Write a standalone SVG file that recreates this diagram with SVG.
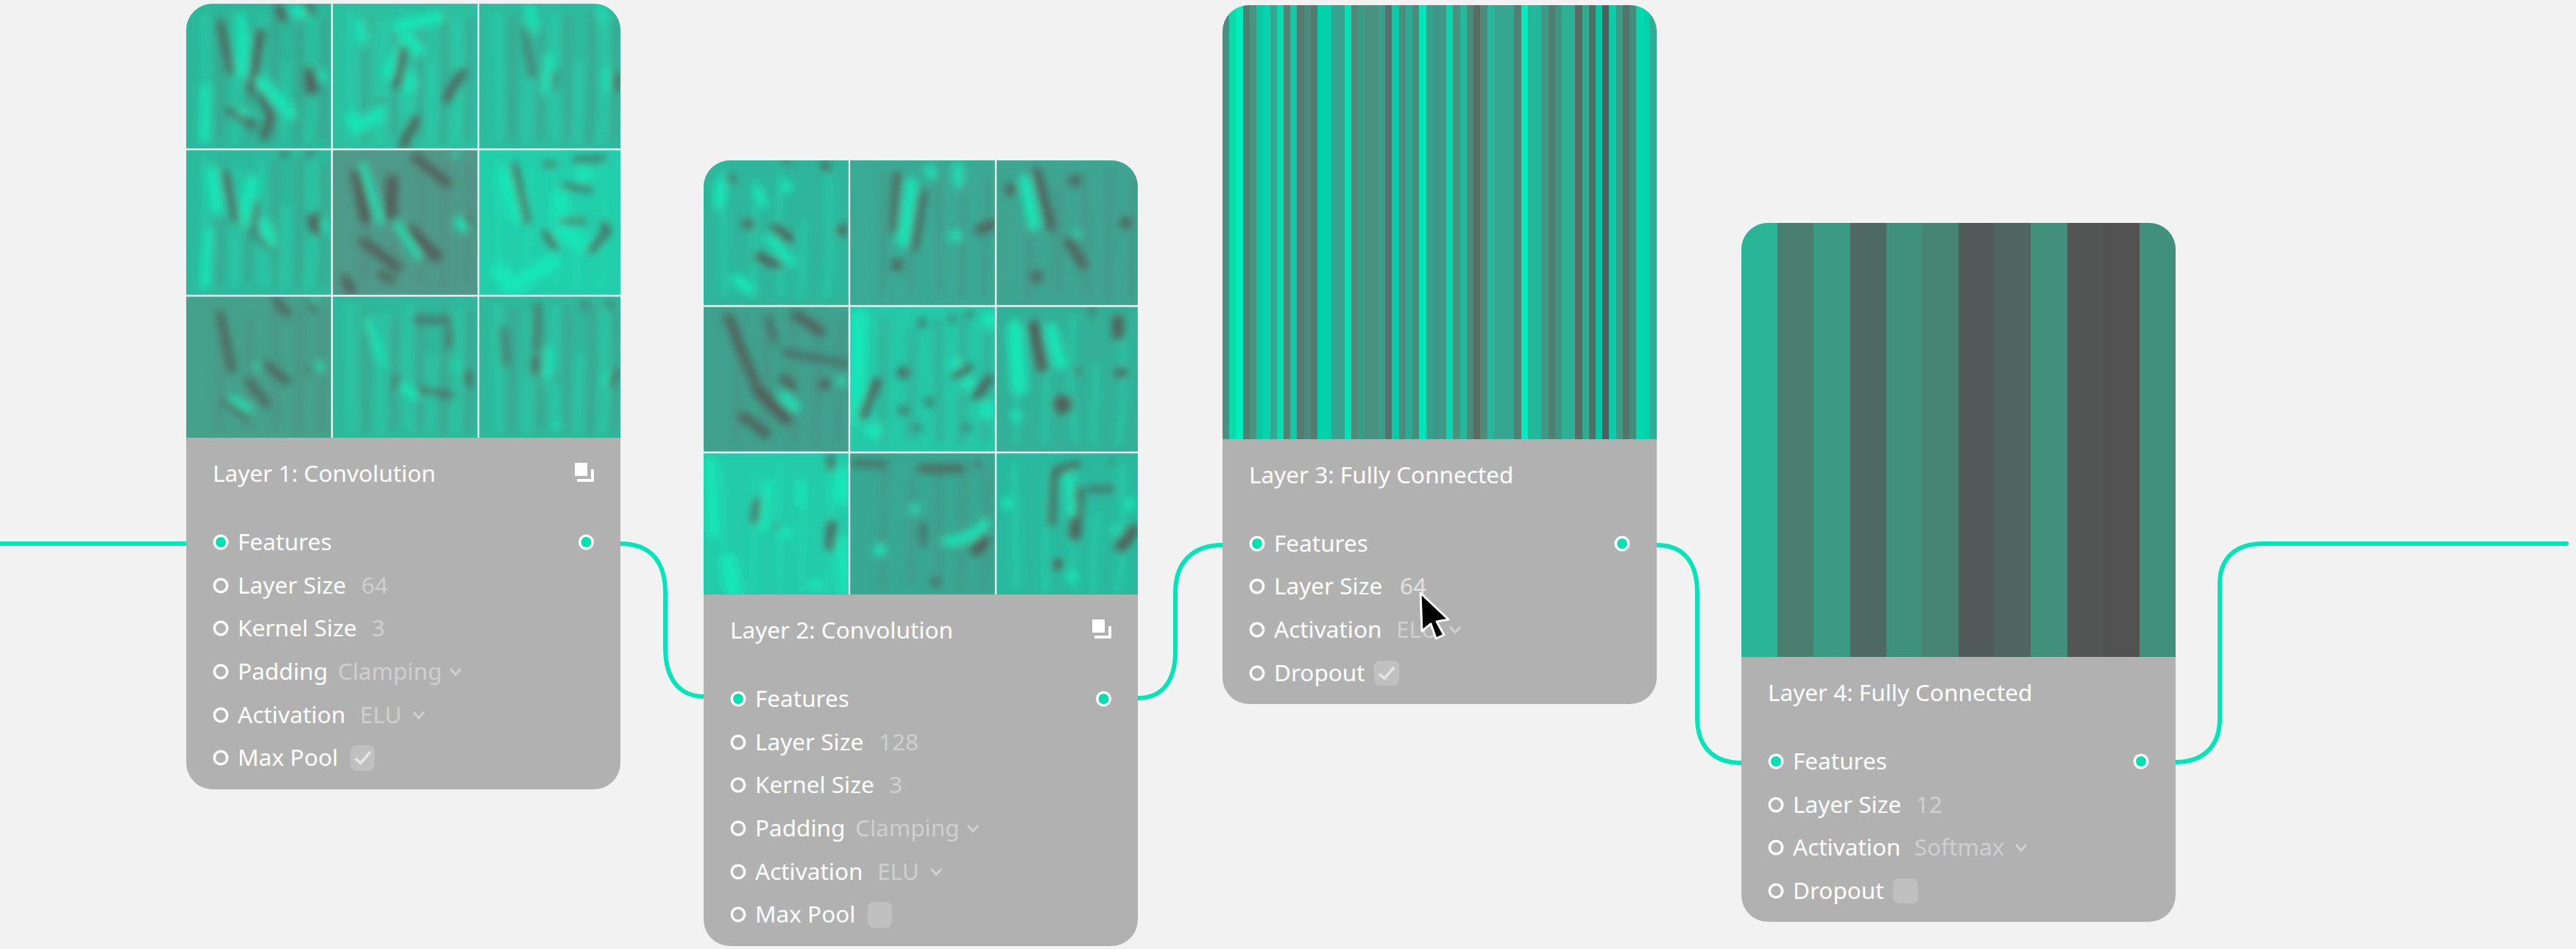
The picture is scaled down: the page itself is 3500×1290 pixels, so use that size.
<svg xmlns="http://www.w3.org/2000/svg" width="3500" height="1290" viewBox="0 0 3500 1290">
<style>
text{font-family:"Noto Sans","Liberation Sans",sans-serif;font-size:31.5px;fill:#fff}
text.v{fill:#cfcfcf}
text.h{fill:#e2e2e2}
.panel{fill:#b1b1b1}
.conn{fill:none;stroke:#00e6b8;stroke-width:6;stroke-linecap:round}
.port{fill:none;stroke:#fff;stroke-width:3.6}
.on{fill:#00e0b0}
.chev{fill:none;stroke:#d0d0d0;stroke-width:3.2}
.box{fill:#c0c0c0}
.tick{fill:none;stroke:#e6e6e6;stroke-width:3.6}
.grid{stroke:#f4f4f4;stroke-width:2.4;fill:none}
.d10,.d14,.d18,.d24,.b14,.b20,.b28,.b40{fill:none;stroke-linecap:round;stroke-linejoin:round}
.d10,.d14,.d18,.d24{stroke:#535c59}
.b14,.b20,.b28,.b40{stroke:#16e6b8}
.d10{stroke-width:18}.d14{stroke-width:24}.d18{stroke-width:30}.d24{stroke-width:40}
.b14{stroke-width:24}.b20{stroke-width:32}.b28{stroke-width:42}.b40{stroke-width:58}
.sb{fill:none;stroke:#18dcb2;stroke-width:28;opacity:.42}
.sd{fill:none;stroke:#57807a;stroke-width:24;opacity:.38}
</style>
<defs>
<filter id="blur" x="-40%" y="-40%" width="180%" height="180%"><feGaussianBlur stdDeviation="15"/></filter>
<path id="sb" class="sb" d="M62 30L72 470M180 60L168 480M265 30L255 250L270 470M345 200L335 480M430 40L440 300L420 480"/>
<path id="sd" class="sd" d="M120 40L112 470M218 80L210 460M305 40L310 470M392 30L385 480M475 50L465 470"/>
<clipPath id="n1"><rect x="253" y="5" width="590" height="1068" rx="36"/></clipPath>
<clipPath id="n2"><rect x="956" y="218" width="590" height="1068" rx="36"/></clipPath>
<clipPath id="n3"><rect x="1661" y="7" width="590" height="950" rx="36"/></clipPath>
<clipPath id="n4"><rect x="2366" y="303" width="590" height="950" rx="36"/></clipPath>
<clipPath id="a00"><rect x="33" y="13" width="500" height="500"/></clipPath>
<clipPath id="a10"><rect x="533" y="13" width="504" height="500"/></clipPath>
<clipPath id="a20"><rect x="1037" y="13" width="488" height="500"/></clipPath>
<clipPath id="a01"><rect x="33" y="513" width="500" height="503"/></clipPath>
<clipPath id="a11"><rect x="533" y="513" width="504" height="503"/></clipPath>
<clipPath id="a21"><rect x="1037" y="513" width="488" height="503"/></clipPath>
<clipPath id="a02"><rect x="33" y="1016" width="500" height="489"/></clipPath>
<clipPath id="a12"><rect x="533" y="1016" width="504" height="489"/></clipPath>
<clipPath id="a22"><rect x="1037" y="1016" width="488" height="489"/></clipPath>
<clipPath id="c00"><rect x="15" y="20" width="501" height="502"/></clipPath>
<clipPath id="c10"><rect x="516" y="20" width="504" height="502"/></clipPath>
<clipPath id="c20"><rect x="1020" y="20" width="487" height="502"/></clipPath>
<clipPath id="c01"><rect x="15" y="522" width="501" height="504"/></clipPath>
<clipPath id="c11"><rect x="516" y="522" width="504" height="504"/></clipPath>
<clipPath id="c21"><rect x="1020" y="522" width="487" height="504"/></clipPath>
<clipPath id="c02"><rect x="15" y="1026" width="501" height="487"/></clipPath>
<clipPath id="c12"><rect x="516" y="1026" width="504" height="487"/></clipPath>
<clipPath id="c22"><rect x="1020" y="1026" width="487" height="487"/></clipPath>
</defs>
<rect width="3500" height="1290" fill="#f2f2f2"/>
<g id="connectors">
<path class="conn" style="stroke-linecap:butt" d="M0 739H253"/>
<path class="conn" d="M843 739C885 739 904 765 904 805V880C904 922 922 947 958 947"/>
<path class="conn" d="M1546 949C1580 949 1597 925 1597 885V805C1597 765 1620 741 1661 741"/>
<path class="conn" d="M2251 741C2288 741 2306 765 2306 805V975C2306 1012 2325 1037 2366 1037"/>
<path class="conn" d="M2956 1036C2996 1036 3016 1012 3016 977V793C3016 760 3036 739 3075 739H3487"/>
</g>
<g id="node1">
<g clip-path="url(#n1)">
<rect class="panel" x="253" y="5" width="590" height="1068"/>
<g transform="translate(240,0) scale(.39541)">
<g clip-path="url(#a00)"><rect x="33" y="13" width="500" height="500" fill="#2cb79a"/><g filter="url(#blur)"><use href="#sb" x="33" y="13"/><use href="#sd" x="33" y="13"/>
<path class="d14" d="M150 80L190 250M180 380L270 430"/><path class="d18" d="M290 110L260 310M290 330L320 400L300 470M350 30L370 60M450 20L460 40"/><path class="d24" d="M460 250L465 310"/>
<path class="b28" d="M230 120L225 250M290 280L390 390M410 40L430 45"/><path class="b20" d="M100 300L95 480M220 60L225 90"/><path class="b14" d="M490 250L510 270M220 380L240 390"/></g></g>
<g clip-path="url(#a10)"><rect x="533" y="13" width="504" height="500" fill="#2cc0a0"/><g filter="url(#blur)"><use href="#sb" x="533" y="13"/><use href="#sd" x="533" y="13"/>
<path class="b28" d="M730 250L790 130L830 170M800 270L800 300M760 90L900 60M600 400L620 440L700 390"/><path class="b20" d="M630 80L640 140"/>
<path class="d18" d="M780 170L760 290M980 250L930 340M820 410L780 500"/><path class="d10" d="M700 350h.1"/></g></g>
<g clip-path="url(#a20)"><rect x="1037" y="13" width="488" height="500" fill="#2dbb9e"/><g filter="url(#blur)"><use href="#sb" x="1037" y="13"/><use href="#sd" x="1037" y="13"/>
<path class="d18" d="M1510 260L1510 300"/><path class="d10" d="M1300 250L1290 310M1200 100L1220 260"/>
<path class="b20" d="M1215 30L1225 100M1480 250L1480 300M1280 200L1270 310"/><path class="b14" d="M1460 30L1465 70"/></g></g>
<g clip-path="url(#a01)"><rect x="33" y="513" width="500" height="503" fill="#2cba9d"/><g filter="url(#blur)"><use href="#sb" x="33" y="513"/><use href="#sd" x="33" y="513"/>
<path class="b28" d="M125 590L140 720M260 620L230 760M300 770L320 830"/><path class="b20" d="M110 800L95 980M505 770v20"/>
<path class="d14" d="M170 600L205 760M370 530h.1M460 530h.1"/><path class="d24" d="M470 750L480 790"/><path class="d10" d="M275 700L270 800L310 850"/></g></g>
<g clip-path="url(#a11)"><rect x="533" y="513" width="504" height="503" fill="#4f9a89"/><g filter="url(#blur)"><use href="#sd" x="533" y="513"/>
<path class="d24" d="M620 600L650 750M740 620L735 740M800 790L890 880"/><path class="d18" d="M640 830L760 920M820 540L930 630M580 960L600 1000M1000 760h.1"/><path class="d14" d="M700 940L740 965"/>
<path class="b14" d="M640 570L700 760M760 770L830 880M960 530h.1"/><path class="b20" d="M970 760L985 785"/></g></g>
<g clip-path="url(#a21)"><rect x="1037" y="513" width="488" height="503" fill="#23ceab"/><g filter="url(#blur)"><use href="#sb" x="1037" y="513"/>
<path class="b40" d="M1130 600L1170 740M1110 930L1150 990L1290 900M1320 680L1320 800L1400 840M1400 600h.1"/>
<path class="d14" d="M1160 570L1205 760M1470 770L1480 800L1420 860M1270 800L1300 850"/><path class="d10" d="M1270 565L1300 565M1370 550L1470 545M1330 640L1420 650M1320 760L1400 760"/></g></g>
<g clip-path="url(#a02)"><rect x="33" y="1016" width="500" height="489" fill="#45a18c"/><g filter="url(#blur)"><use href="#sd" x="33" y="1016"/>
<path class="d14" d="M150 1080L190 1270M340 1030L380 1080M460 1030L470 1060M300 1250L380 1310M250 1310L310 1390M170 1380L240 1430M460 1270h.1"/>
<path class="b20" d="M490 1260h.1"/><path class="b14" d="M190 1370L250 1410M280 1260h.1M470 1030h.1"/></g></g>
<g clip-path="url(#a12)"><rect x="533" y="1016" width="504" height="489" fill="#2fb89b"/><g filter="url(#blur)"><use href="#sb" x="533" y="1016"/><use href="#sd" x="533" y="1016"/>
<path class="b14" d="M710 1250h.1M660 1100L700 1230M960 1260h.1"/><path class="b20" d="M780 1330L820 1360"/>
<path class="d10" d="M760 1300L750 1330M830 1340L950 1360M820 1100L940 1100M940 1130L940 1190"/><path class="d14" d="M1000 1280L1005 1320"/></g></g>
<g clip-path="url(#a22)"><rect x="1037" y="1016" width="488" height="489" fill="#2fb89b"/><g filter="url(#blur)"><use href="#sb" x="1037" y="1016"/><use href="#sd" x="1037" y="1016"/>
<path class="d14" d="M1510 1280L1490 1320M1230 1230L1230 1280M1400 1050h.1M1490 1050h.1"/><path class="d10" d="M1120 1130L1130 1250M1240 1050L1230 1200M1300 1300h.1"/>
<path class="b14" d="M1480 1290L1470 1320M1280 1200L1270 1300M1300 1460h.1"/></g></g>
</g>
<path class="grid" d="M451 5V595M650 5V595M253 203H843M253 402H843"/>
</g>
<text x="289" y="655">Layer 1: Convolution</text>
<path fill="#fff" d="M781 629h17v18h-17z"/><path fill="#fff" d="M803 638h4v17h-23v-4h19z"/>
<circle class="port on" cx="300" cy="737" r="8.7"/><circle class="port on" cx="796.5" cy="737" r="8.7"/>
<text x="323" y="748">Features</text>
<circle class="port" cx="300" cy="796" r="8.7"/><text x="323" y="807">Layer Size</text><text class="v" x="491" y="807">64</text>
<circle class="port" cx="300" cy="854" r="8.7"/><text x="323" y="865">Kernel Size</text><text class="v" x="505" y="865">3</text>
<circle class="port" cx="300" cy="913" r="8.7"/><text x="323" y="924">Padding</text><text class="v" x="459" y="924">Clamping</text><path class="chev" d="M612 909l7 8 7-8"/>
<circle class="port" cx="300" cy="972" r="8.7"/><text x="323" y="983">Activation</text><text class="v" x="489" y="983">ELU</text><path class="chev" d="M562 968l7 8 7-8"/>
<circle class="port" cx="300" cy="1030" r="8.7"/><text x="323" y="1041">Max Pool</text><rect class="box" x="476" y="1013" width="33" height="35" rx="8"/><path class="tick" d="M483 1031l7 6.500 13-15.500"/>
</g>
<g id="node2">
<g clip-path="url(#n2)">
<rect class="panel" x="956" y="218" width="590" height="1068"/>
<g transform="translate(950,210) scale(.39541)">
<g clip-path="url(#c00)"><rect x="15" y="20" width="501" height="502" fill="#2fb59b"/><g filter="url(#blur)"><use href="#sb" x="15" y="20"/>
<path class="b28" d="M75 100L70 170M130 430L170 460M300 110h.1"/><path class="b20" d="M240 290L320 370M200 120L220 170"/>
<path class="d18" d="M110 85h.1M260 250L310 290M200 350L270 380"/><path class="d24" d="M170 240h.1M490 260h.1"/><path class="d14" d="M430 30L440 50M300 25h.1"/></g></g>
<g clip-path="url(#c10)"><rect x="516" y="20" width="504" height="502" fill="#3aaa94"/><g filter="url(#blur)"><use href="#sd" x="516" y="20"/>
<path class="b28" d="M730 100L700 300M880 280h.1"/><path class="b20" d="M790 50L800 70M890 40L890 100"/>
<path class="d14" d="M680 70L670 260M770 130L740 320"/><path class="d18" d="M960 260L1010 240"/><path class="d24" d="M680 380h.1"/></g></g>
<g clip-path="url(#c20)"><rect x="1020" y="20" width="487" height="502" fill="#3ea591"/><g filter="url(#blur)"><use href="#sd" x="1020" y="20"/>
<path class="b28" d="M1120 90L1150 240"/><path class="b14" d="M1300 270h.1"/>
<path class="d18" d="M1160 60L1210 250M1270 300L1320 380"/><path class="d24" d="M1465 235h.1M1290 90h.1M1160 420h.1M1070 120h.1"/></g></g>
<g clip-path="url(#c01)"><rect x="15" y="522" width="501" height="504" fill="#3fa18e"/><g filter="url(#blur)"><use href="#sd" x="15" y="522"/>
<path class="d18" d="M100 560L190 780M330 550L420 610M290 770L320 800M150 900L230 960"/><path class="d10" d="M235 560L260 640M290 680L510 720"/><path class="d24" d="M430 790h.1M200 810L300 910"/>
<path class="b20" d="M290 830L330 870M490 780h.1"/></g></g>
<g clip-path="url(#c11)"><rect x="516" y="522" width="504" height="504" fill="#24c9a8"/><g filter="url(#blur)"><use href="#sd" x="516" y="522"/>
<path class="b40" d="M550 560L540 900M600 950h.1M990 880h.1M1000 570h.1"/><path class="b28" d="M880 720h.1M920 790h.1"/>
<path class="d24" d="M700 750h.1"/><path class="d18" d="M610 780L560 900M765 580h.1M1000 770L950 830M700 880h.1M790 850h.1"/><path class="d14" d="M870 565h.1M930 550h.1M880 760L930 730M750 940h.1M920 940h.1"/></g></g>
<g clip-path="url(#c21)"><rect x="1020" y="522" width="487" height="504" fill="#33b097"/><g filter="url(#blur)"><use href="#sb" x="1020" y="522"/>
<path class="b40" d="M1085 600L1100 800"/><path class="b28" d="M1090 900h.1M1210 600L1240 720"/>
<path class="d24" d="M1150 590L1180 730M1450 750h.1M1440 570L1440 620"/><path class="d14" d="M1300 745h.1M1350 540h.1"/><path d="M1250 860h.1" fill="none" stroke="#535c59" stroke-width="66" stroke-linecap="round"/></g></g>
<g clip-path="url(#c02)"><rect x="15" y="1026" width="501" height="487" fill="#24cbaa"/><g filter="url(#blur)"><use href="#sb" x="15" y="1026"/>
<path class="b28" d="M35 1060L50 1300M490 1330L500 1500M300 1300h.1M400 1480h.1"/><path class="b40" d="M490 1100L490 1180M100 1400L120 1500"/><path class="b20" d="M240 1130L220 1280M350 1130L350 1200"/>
<path class="d18" d="M455 1270L450 1350"/><path class="d14" d="M200 1190L190 1260M450 1040L455 1080"/><path class="d10" d="M265 1280h.1"/></g></g>
<g clip-path="url(#c12)"><rect x="516" y="1026" width="504" height="487" fill="#38a892"/><g filter="url(#blur)"><use href="#sd" x="516" y="1026"/>
<path class="d10" d="M530 1060L640 1065M770 1270L770 1340"/><path class="d14" d="M760 1080L900 1080M955 1065h.1"/><path class="d24" d="M980 1330L950 1360"/><path class="d18" d="M810 1470h.1"/>
<path class="b20" d="M850 1330Q930 1330 980 1270M740 1220h.1"/><path class="b28" d="M620 1360h.1"/></g></g>
<g clip-path="url(#c22)"><rect x="1020" y="1026" width="487" height="487" fill="#2ab99e"/><g filter="url(#blur)"><use href="#sb" x="1020" y="1026"/>
<path class="d14" d="M1210 1270L1220 1090L1300 1065"/><path class="d24" d="M1300 1160L1290 1310M1490 1290L1450 1350M1230 1410h.1"/><path class="d10" d="M1420 1060h.1M1340 1150L1420 1150"/>
<path class="b20" d="M1270 1110L1280 1230M1430 1290h.1"/><path class="b28" d="M1480 1200h.1M1060 1200h.1M1280 1450h.1"/></g></g>
</g>
<path class="grid" d="M1154 218V808M1353 218V808M956 416H1546M956 615H1546"/>
</g>
<text x="992" y="868">Layer 2: Convolution</text>
<path fill="#fff" d="M1484 842h17v18h-17z"/><path fill="#fff" d="M1506 851h4v17h-23v-4h19z"/>
<circle class="port on" cx="1003" cy="950" r="8.7"/><circle class="port on" cx="1499.500" cy="950" r="8.7"/>
<text x="1026" y="961">Features</text>
<circle class="port" cx="1003" cy="1009" r="8.7"/><text x="1026" y="1020">Layer Size</text><text class="v" x="1194" y="1020">128</text>
<circle class="port" cx="1003" cy="1067" r="8.7"/><text x="1026" y="1078">Kernel Size</text><text class="v" x="1208" y="1078">3</text>
<circle class="port" cx="1003" cy="1126" r="8.7"/><text x="1026" y="1137">Padding</text><text class="v" x="1162" y="1137">Clamping</text><path class="chev" d="M1315 1122l7 8 7-8"/>
<circle class="port" cx="1003" cy="1185" r="8.7"/><text x="1026" y="1196">Activation</text><text class="v" x="1192" y="1196">ELU</text><path class="chev" d="M1265 1181l7 8 7-8"/>
<circle class="port" cx="1003" cy="1243" r="8.7"/><text x="1026" y="1254">Max Pool</text><rect class="box" x="1179" y="1226" width="33" height="35" rx="8"/>
</g>
<g id="node3">
<g clip-path="url(#n3)">
<rect class="panel" x="1661" y="7" width="590" height="950"/>
<g shape-rendering="crispEdges">
<rect x="1661" y="7" width="10" height="590" fill="#4c8f80"/><rect x="1670.220" y="7" width="10" height="590" fill="#0dd8ae"/><rect x="1679.440" y="7" width="10" height="590" fill="#00ecbc"/><rect x="1688.660" y="7" width="10" height="590" fill="#4f7f73"/><rect x="1697.880" y="7" width="10" height="590" fill="#4a9484"/><rect x="1707.100" y="7" width="10" height="590" fill="#0ac8a4"/><rect x="1716.310" y="7" width="10" height="590" fill="#05d4ad"/><rect x="1725.530" y="7" width="10" height="590" fill="#33a78f"/>
<rect x="1734.750" y="7" width="10" height="590" fill="#05dcb2"/><rect x="1743.970" y="7" width="10" height="590" fill="#548075"/><rect x="1753.190" y="7" width="10" height="590" fill="#0ecba7"/><rect x="1762.410" y="7" width="10" height="590" fill="#567a70"/><rect x="1771.630" y="7" width="10" height="590" fill="#4a8b7d"/><rect x="1780.840" y="7" width="10" height="590" fill="#567a70"/><rect x="1790.060" y="7" width="10" height="590" fill="#00d2aa"/><rect x="1799.280" y="7" width="10" height="590" fill="#06cfa9"/>
<rect x="1808.500" y="7" width="10" height="590" fill="#38a28e"/><rect x="1817.720" y="7" width="10" height="590" fill="#38a28e"/><rect x="1826.940" y="7" width="10" height="590" fill="#00e4b8"/><rect x="1836.160" y="7" width="10" height="590" fill="#4f8a7b"/><rect x="1845.380" y="7" width="10" height="590" fill="#3c9c88"/><rect x="1854.590" y="7" width="10" height="590" fill="#4b8f7e"/><rect x="1863.810" y="7" width="10" height="590" fill="#4a917f"/><rect x="1873.030" y="7" width="10" height="590" fill="#3aa08c"/>
<rect x="1882.250" y="7" width="10" height="590" fill="#54706a"/><rect x="1891.470" y="7" width="10" height="590" fill="#05cda7"/><rect x="1900.690" y="7" width="10" height="590" fill="#4f8b7b"/><rect x="1909.910" y="7" width="10" height="590" fill="#2eab92"/><rect x="1919.130" y="7" width="10" height="590" fill="#4e897a"/><rect x="1928.340" y="7" width="10" height="590" fill="#00e6ba"/><rect x="1937.560" y="7" width="10" height="590" fill="#36a18d"/><rect x="1946.780" y="7" width="10" height="590" fill="#3f9887"/>
<rect x="1956" y="7" width="10" height="590" fill="#3f9986"/><rect x="1965.220" y="7" width="10" height="590" fill="#0dd6ae"/><rect x="1974.440" y="7" width="10" height="590" fill="#4a917f"/><rect x="1983.660" y="7" width="10" height="590" fill="#22b99c"/><rect x="1992.880" y="7" width="10" height="590" fill="#4b8979"/><rect x="2002.100" y="7" width="10" height="590" fill="#5a6b66"/><rect x="2011.310" y="7" width="10" height="590" fill="#4f8b7b"/><rect x="2020.530" y="7" width="10" height="590" fill="#25b89c"/>
<rect x="2029.750" y="7" width="28" height="590" fill="#36a690"/><rect x="2057.410" y="7" width="10" height="590" fill="#537f73"/><rect x="2066.630" y="7" width="10" height="590" fill="#00ebbe"/><rect x="2075.840" y="7" width="19" height="590" fill="#22b89c"/><rect x="2094.280" y="7" width="10" height="590" fill="#3c9a87"/>
<rect x="2103.500" y="7" width="10" height="590" fill="#4f7f72"/><rect x="2112.720" y="7" width="10" height="590" fill="#3f9584"/><rect x="2121.940" y="7" width="10" height="590" fill="#2eb095"/><rect x="2131.160" y="7" width="10" height="590" fill="#2cb196"/><rect x="2140.380" y="7" width="10" height="590" fill="#566c66"/><rect x="2149.590" y="7" width="10" height="590" fill="#33a990"/><rect x="2158.810" y="7" width="10" height="590" fill="#566c66"/><rect x="2168.030" y="7" width="10" height="590" fill="#07c6a3"/>
<rect x="2177.250" y="7" width="10" height="590" fill="#585a5c"/><rect x="2186.470" y="7" width="10" height="590" fill="#0acca8"/><rect x="2195.690" y="7" width="10" height="590" fill="#3f9985"/><rect x="2204.910" y="7" width="10" height="590" fill="#54736b"/><rect x="2214.130" y="7" width="10" height="590" fill="#438f7e"/><rect x="2223.340" y="7" width="10" height="590" fill="#00d9b0"/><rect x="2232.560" y="7" width="10" height="590" fill="#04d1aa"/><rect x="2241.780" y="7" width="9.220" height="590" fill="#30ae94"/>
</g>
</g>
<text x="1697" y="657">Layer 3: Fully Connected</text>
<circle class="port on" cx="1708" cy="739" r="8.7"/><circle class="port on" cx="2204" cy="739" r="8.7"/>
<text x="1731" y="750">Features</text>
<circle class="port" cx="1708" cy="797" r="8.7"/><text x="1731" y="808">Layer Size</text><text class="h" x="1902" y="808">64</text>
<circle class="port" cx="1708" cy="856" r="8.7"/><text x="1731" y="867">Activation</text><text class="v" x="1897" y="867">ELU</text><path class="chev" d="M1970 852l7 8 7-8"/>
<circle class="port" cx="1708" cy="915" r="8.7"/><text x="1731" y="926">Dropout</text><rect class="box" x="1867" y="898" width="34" height="34" rx="8"/><path class="tick" d="M1874 916l7 6.500 13-15.500"/>
</g>
<path id="cursor" d="M1930 806L1932 858L1944 848L1951 868L1962 863L1952 845L1968 842Z" fill="#000" stroke="#fff" stroke-width="3" stroke-linejoin="round"/>
<g id="node4">
<g clip-path="url(#n4)">
<rect class="panel" x="2366" y="303" width="590" height="950"/>
<g shape-rendering="crispEdges">
<rect x="2366" y="303" width="50" height="590" fill="#2bb597"/><rect x="2415" y="303" width="50" height="590" fill="#4a7f70"/><rect x="2464" y="303" width="50" height="590" fill="#3b9a84"/><rect x="2513.500" y="303" width="50" height="590" fill="#4e6963"/><rect x="2563" y="303" width="50" height="590" fill="#40917c"/><rect x="2612" y="303" width="50" height="590" fill="#468372"/><rect x="2661" y="303" width="50" height="590" fill="#515b5a"/><rect x="2710" y="303" width="50" height="590" fill="#4f6660"/><rect x="2759" y="303" width="50" height="590" fill="#42907b"/><rect x="2808.500" y="303" width="50" height="590" fill="#535555"/><rect x="2857" y="303" width="50" height="590" fill="#525252"/><rect x="2907" y="303" width="49" height="590" fill="#40907c"/>
</g>
</g>
<text x="2402" y="953">Layer 4: Fully Connected</text>
<circle class="port on" cx="2413" cy="1035" r="8.7"/><circle class="port on" cx="2909" cy="1035" r="8.7"/>
<text x="2436" y="1046">Features</text>
<circle class="port" cx="2413" cy="1094" r="8.7"/><text x="2436" y="1105">Layer Size</text><text class="v" x="2603" y="1105">12</text>
<circle class="port" cx="2413" cy="1152" r="8.7"/><text x="2436" y="1163">Activation</text><text class="v" x="2601" y="1163">Softmax</text><path class="chev" d="M2739 1148l7 8 7-8"/>
<circle class="port" cx="2413" cy="1211" r="8.7"/><text x="2436" y="1222">Dropout</text><rect class="box" x="2572" y="1194" width="34" height="34" rx="8"/>
</g>
</svg>
